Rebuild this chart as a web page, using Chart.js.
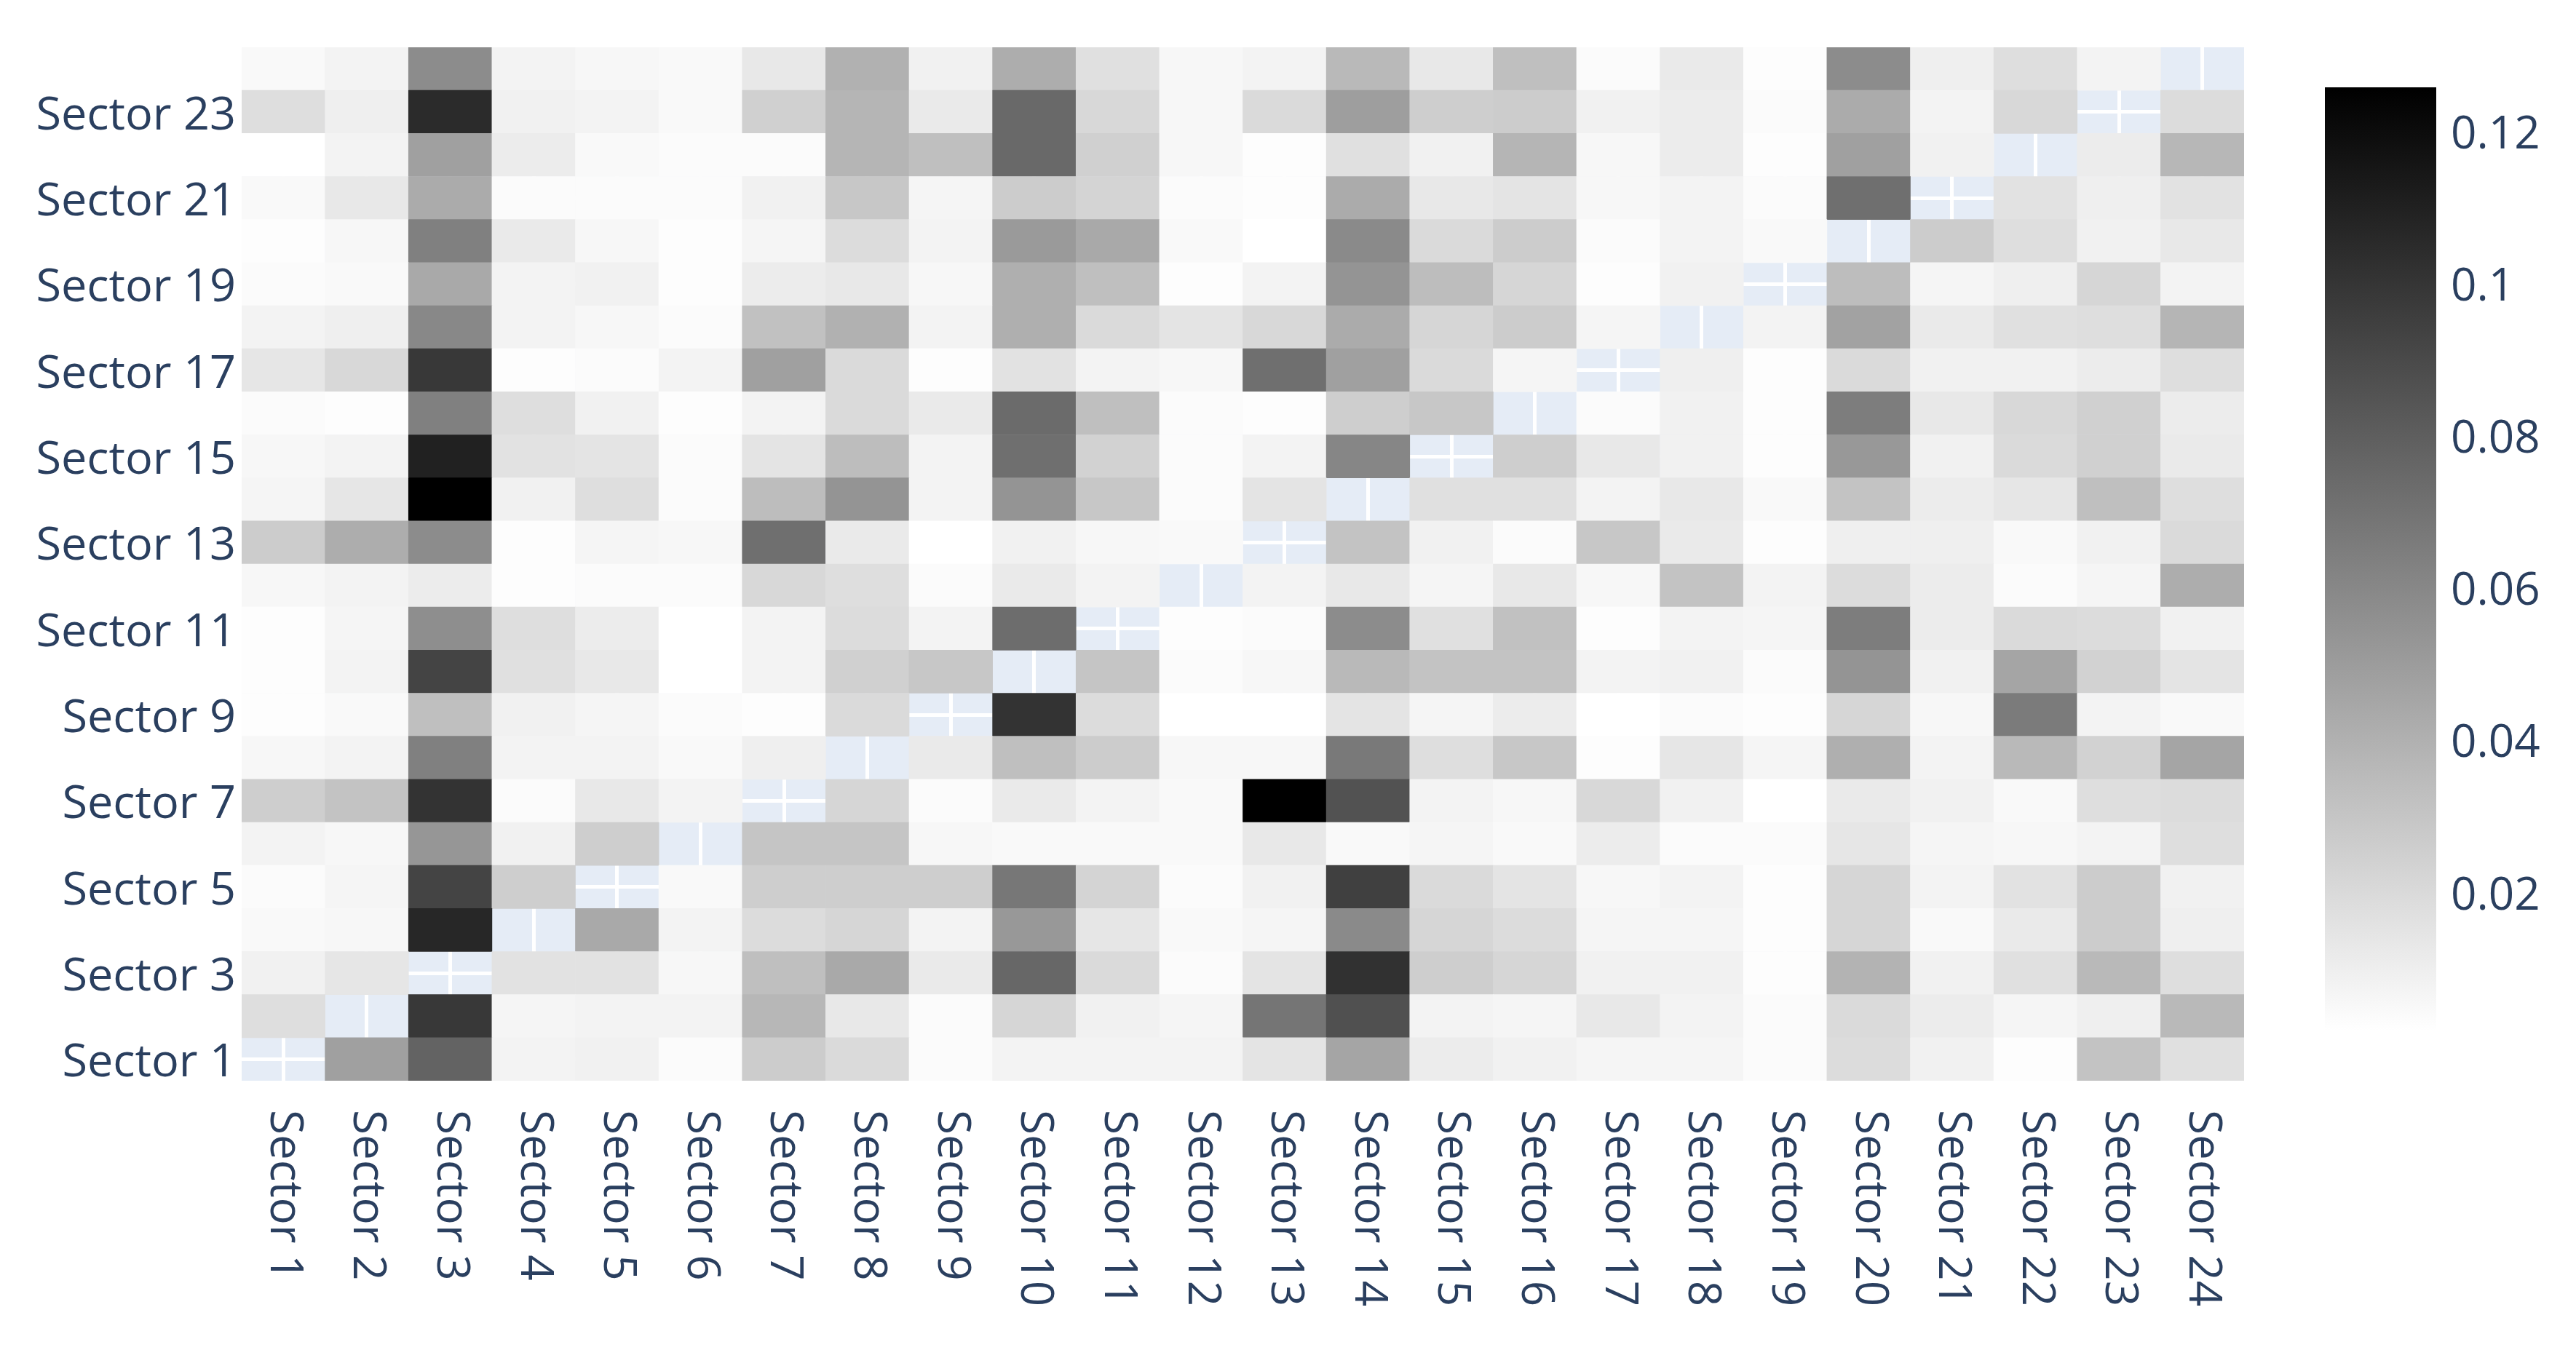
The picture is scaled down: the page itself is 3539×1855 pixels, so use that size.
<!DOCTYPE html>
<html>
<head>
<meta charset="utf-8">
<script src="https://cdn.jsdelivr.net/npm/chart.js@4.4.1/dist/chart.umd.min.js"></script>
<style>
  html, body { margin: 0; padding: 0; background: #fff; }
</style>
</head>
<body>
<canvas id="heat" width="3539" height="1855"></canvas>
<script>
// categories
const sectors = ["Sector 1", "Sector 2", "Sector 3", "Sector 4", "Sector 5", "Sector 6",
  "Sector 7", "Sector 8", "Sector 9", "Sector 10", "Sector 11", "Sector 12",
  "Sector 13", "Sector 14", "Sector 15", "Sector 16", "Sector 17", "Sector 18",
  "Sector 19", "Sector 20", "Sector 21", "Sector 22", "Sector 23", "Sector 24"];
const yTickSectors = [1, 3, 5, 7, 9, 11, 13, 15, 17, 19, 21, 23];
const colorbarTicks = [0.02, 0.04, 0.06, 0.08, 0.1, 0.12];

// one row per sector (y), values for Sector 1..24 (x); diagonal is empty
const sector1  = [null, 0.048, 0.078, 0.008, 0.009, 0.004, 0.027, 0.020, 0.004, 0.008, 0.008, 0.008, 0.015, 0.046, 0.011, 0.009, 0.007, 0.007, 0.004, 0.019, 0.009, 0.003, 0.031, 0.017];
const sector2  = [0.018, null, 0.099, 0.007, 0.008, 0.008, 0.037, 0.013, 0.004, 0.022, 0.009, 0.007, 0.069, 0.087, 0.008, 0.007, 0.013, 0.008, 0.004, 0.020, 0.011, 0.007, 0.010, 0.036];
const sector3  = [0.009, 0.014, null, 0.016, 0.016, 0.006, 0.033, 0.044, 0.012, 0.076, 0.020, 0.004, 0.015, 0.102, 0.026, 0.022, 0.009, 0.009, 0.003, 0.039, 0.009, 0.017, 0.036, 0.018];
const sector4  = [0.005, 0.006, 0.107, null, 0.044, 0.008, 0.019, 0.022, 0.008, 0.052, 0.014, 0.005, 0.007, 0.059, 0.022, 0.019, 0.007, 0.007, 0.003, 0.022, 0.005, 0.012, 0.027, 0.010];
const sector5  = [0.004, 0.007, 0.093, 0.026, null, 0.005, 0.026, 0.026, 0.026, 0.068, 0.023, 0.004, 0.009, 0.095, 0.020, 0.015, 0.006, 0.008, 0.003, 0.022, 0.008, 0.016, 0.027, 0.009];
const sector6  = [0.008, 0.006, 0.053, 0.009, 0.026, null, 0.030, 0.030, 0.006, 0.005, 0.005, 0.005, 0.013, 0.005, 0.007, 0.005, 0.011, 0.004, 0.004, 0.014, 0.007, 0.006, 0.008, 0.018];
const sector7  = [0.026, 0.031, 0.101, 0.004, 0.013, 0.008, null, 0.022, 0.004, 0.012, 0.008, 0.005, 0.126, 0.086, 0.008, 0.006, 0.021, 0.009, 0.002, 0.012, 0.009, 0.005, 0.018, 0.019];
const sector8  = [0.006, 0.008, 0.064, 0.008, 0.008, 0.005, 0.010, null, 0.012, 0.033, 0.027, 0.006, 0.006, 0.067, 0.018, 0.029, 0.003, 0.014, 0.007, 0.041, 0.008, 0.036, 0.024, 0.046];
const sector9  = [0.003, 0.005, 0.033, 0.009, 0.007, 0.004, 0.003, 0.020, null, 0.101, 0.019, 0.002, 0.002, 0.015, 0.007, 0.011, 0.002, 0.004, 0.003, 0.022, 0.006, 0.066, 0.008, 0.005];
const sector10 = [0.003, 0.008, 0.093, 0.017, 0.013, 0.002, 0.008, 0.025, 0.029, null, 0.030, 0.004, 0.006, 0.036, 0.031, 0.031, 0.008, 0.009, 0.004, 0.054, 0.009, 0.046, 0.024, 0.015];
const sector11 = [0.003, 0.007, 0.057, 0.018, 0.011, 0.002, 0.008, 0.019, 0.008, 0.073, null, 0.003, 0.004, 0.058, 0.017, 0.032, 0.003, 0.008, 0.007, 0.065, 0.011, 0.020, 0.019, 0.009];
const sector12 = [0.006, 0.008, 0.011, 0.003, 0.004, 0.004, 0.021, 0.018, 0.004, 0.012, 0.008, null, 0.008, 0.013, 0.007, 0.013, 0.006, 0.031, 0.008, 0.019, 0.011, 0.004, 0.007, 0.042];
const sector13 = [0.027, 0.042, 0.058, 0.003, 0.007, 0.006, 0.072, 0.012, 0.002, 0.009, 0.006, 0.005, null, 0.031, 0.009, 0.004, 0.029, 0.012, 0.003, 0.010, 0.010, 0.005, 0.009, 0.020];
const sector14 = [0.007, 0.014, 0.126, 0.009, 0.018, 0.004, 0.034, 0.054, 0.008, 0.054, 0.029, 0.004, 0.015, null, 0.017, 0.017, 0.008, 0.013, 0.005, 0.031, 0.011, 0.014, 0.033, 0.018];
const sector15 = [0.006, 0.008, 0.110, 0.016, 0.015, 0.004, 0.015, 0.034, 0.008, 0.072, 0.024, 0.004, 0.008, 0.061, null, 0.026, 0.013, 0.009, 0.003, 0.052, 0.009, 0.020, 0.025, 0.012];
const sector16 = [0.004, 0.003, 0.064, 0.018, 0.009, 0.003, 0.008, 0.020, 0.012, 0.074, 0.033, 0.004, 0.003, 0.026, 0.029, null, 0.004, 0.009, 0.003, 0.065, 0.013, 0.021, 0.025, 0.011];
const sector17 = [0.014, 0.021, 0.099, 0.003, 0.004, 0.008, 0.048, 0.020, 0.003, 0.016, 0.008, 0.006, 0.072, 0.048, 0.020, 0.007, null, 0.010, 0.003, 0.020, 0.009, 0.009, 0.011, 0.018];
const sector18 = [0.008, 0.010, 0.060, 0.008, 0.006, 0.004, 0.032, 0.040, 0.008, 0.041, 0.020, 0.015, 0.021, 0.043, 0.022, 0.027, 0.007, null, 0.008, 0.047, 0.012, 0.017, 0.018, 0.038];
const sector19 = [0.004, 0.005, 0.044, 0.008, 0.009, 0.003, 0.011, 0.013, 0.006, 0.041, 0.033, 0.003, 0.008, 0.054, 0.034, 0.022, 0.003, 0.009, null, 0.034, 0.007, 0.010, 0.022, 0.008];
const sector20 = [0.003, 0.006, 0.064, 0.012, 0.006, 0.003, 0.007, 0.019, 0.008, 0.051, 0.044, 0.005, 0.002, 0.059, 0.020, 0.027, 0.004, 0.008, 0.005, null, 0.027, 0.018, 0.009, 0.013];
const sector21 = [0.005, 0.013, 0.043, 0.004, 0.004, 0.004, 0.009, 0.029, 0.007, 0.027, 0.023, 0.004, 0.003, 0.043, 0.013, 0.015, 0.006, 0.008, 0.004, 0.072, null, 0.016, 0.010, 0.016];
const sector22 = [0.002, 0.008, 0.048, 0.011, 0.005, 0.004, 0.004, 0.038, 0.033, 0.075, 0.025, 0.006, 0.003, 0.017, 0.009, 0.038, 0.006, 0.011, 0.003, 0.048, 0.009, null, 0.011, 0.037];
const sector23 = [0.018, 0.010, 0.105, 0.009, 0.008, 0.005, 0.025, 0.038, 0.012, 0.075, 0.021, 0.006, 0.020, 0.049, 0.026, 0.027, 0.009, 0.011, 0.004, 0.043, 0.008, 0.021, null, 0.019];
const sector24 = [0.005, 0.008, 0.058, 0.008, 0.006, 0.005, 0.013, 0.040, 0.009, 0.042, 0.017, 0.006, 0.008, 0.036, 0.013, 0.033, 0.004, 0.012, 0.003, 0.058, 0.010, 0.018, 0.008, null];

const rows = [sector1, sector2, sector3, sector4, sector5, sector6, sector7, sector8,
  sector9, sector10, sector11, sector12, sector13, sector14, sector15, sector16,
  sector17, sector18, sector19, sector20, sector21, sector22, sector23, sector24];

const allValues = rows.flat().filter(v => v !== null);
const zMin = Math.min(...allValues);
const zMax = Math.max(...allValues);

const textColor = "#2a3f5f";
const fontFamily = "'Open Sans', 'Noto Sans', sans-serif";

// reversed Greys: low = white, high = black
function greyFor(v) {
  if (v === null) return "rgba(0,0,0,0)";
  const g = Math.round(255 * (1 - (v - zMin) / (zMax - zMin)));
  return `rgb(${g},${g},${g})`;
}

// colorbar sits inside the plot height: share of the bar length left above/below it
const cbTopGap = 55 / 1296;
const cbBottomGap = 69 / 1296;
const cbSpan = zMax - zMin;

const datasets = rows.map((row, r) => ({
  label: sectors[r],
  data: row.map(v => (v === null ? null : [r, r + 1])),
  backgroundColor: row.map(greyFor),
  borderWidth: 0,
  grouped: false,
  barPercentage: 1,
  categoryPercentage: 1
}));

const heatPlugin = {
  id: "heatExtras",
  beforeDraw(chart) {
    const { ctx, chartArea } = chart;
    ctx.save();
    ctx.fillStyle = "#E5ECF6";
    ctx.fillRect(chartArea.left, chartArea.top, chartArea.right - chartArea.left, chartArea.bottom - chartArea.top);
    ctx.restore();
  },
  afterDraw(chart) {
    const { ctx, chartArea, scales } = chart;
    // x tick labels, turned clockwise
    ctx.save();
    ctx.fillStyle = textColor;
    ctx.font = `62px ${fontFamily}`;
    ctx.textAlign = "left";
    ctx.textBaseline = "middle";
    sectors.forEach((name, i) => {
      const x = scales.x.getPixelForValue(i);
      ctx.save();
      ctx.translate(x, chartArea.bottom + 40);
      ctx.rotate(Math.PI / 2);
      ctx.fillText(name, 0, 0);
      ctx.restore();
    });
    ctx.restore();

    // colorbar
    const top = scales.cb.getPixelForValue(zMax);
    const bottom = scales.cb.getPixelForValue(zMin);
    const left = chartArea.right + 111;
    const width = 153;
    const grad = ctx.createLinearGradient(0, top, 0, bottom);
    grad.addColorStop(0, "rgb(0,0,0)");
    grad.addColorStop(1, "rgb(255,255,255)");
    ctx.save();
    ctx.fillStyle = grad;
    ctx.fillRect(left, top, width, bottom - top);
    ctx.restore();
  }
};

new Chart(document.getElementById("heat"), {
  type: "bar",
  data: { labels: sectors, datasets },
  plugins: [heatPlugin],
  options: {
    responsive: false,
    animation: false,
    devicePixelRatio: 1,
    layout: { padding: { top: 65, left: 0, right: 0, bottom: 0 } },
    plugins: { legend: { display: false }, tooltip: { enabled: false } },
    scales: {
      x: {
        type: "category",
        offset: true,
        border: { display: false },
        grid: { color: "#ffffff", lineWidth: 5, offset: false, drawTicks: false },
        ticks: { display: false },
        afterFit: s => { s.height = 370; }
      },
      y: {
        type: "linear",
        min: 0,
        max: 24,
        border: { display: false },
        grid: { color: "#ffffff", lineWidth: 5, drawTicks: false },
        afterBuildTicks: axis => { axis.ticks = yTickSectors.map(n => ({ value: n - 0.5 })); },
        ticks: {
          padding: 8,
          labelOffset: 6,
          color: textColor,
          font: { size: 63, family: fontFamily },
          callback: v => sectors[Math.round(v - 0.5)]
        },
        afterFit: s => { s.width = 332; }
      },
      cb: {
        type: "linear",
        position: "right",
        min: zMin - cbBottomGap * cbSpan,
        max: zMax + cbTopGap * cbSpan,
        border: { display: false },
        grid: {
          display: true,
          drawOnChartArea: false,
          drawTicks: true,
          tickLength: 275,
          tickColor: "rgba(0,0,0,0)"
        },
        afterBuildTicks: axis => { axis.ticks = colorbarTicks.map(v => ({ value: v })); },
        ticks: {
          padding: 9,
          labelOffset: 4,
          color: textColor,
          font: { size: 62, family: fontFamily },
          callback: v => String(v)
        },
        afterFit: s => { s.width = 456; }
      }
    }
  }
});
</script>
</body>
</html>
